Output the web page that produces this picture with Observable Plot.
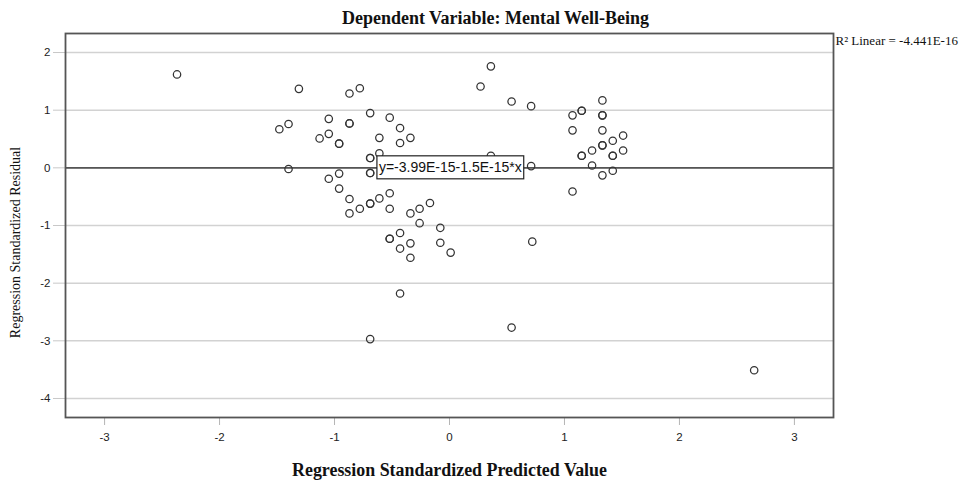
<!DOCTYPE html>
<html>
<head>
<meta charset="utf-8">
<script src="https://cdn.jsdelivr.net/npm/d3@7"></script>
<script src="https://cdn.jsdelivr.net/npm/@observablehq/plot@0.6"></script>
<style>
  html, body { margin: 0; padding: 0; background: #fff; }
  #chart svg { display: block; }
</style>
</head>
<body>
<div id="chart"></div>
<script>
// ---- data ----
const titleText = "Dependent Variable: Mental Well-Being";
const xLabel = "Regression Standardized Predicted Value";
const yLabel = "Regression Standardized Residual";
const r2Label = "R\u00B2 Linear = -4.441E-16";
const xTicks = [-3, -2, -1, 0, 1, 2, 3];
const yTicks = [-4, -3, -2, -1, 0, 1, 2];
const fitLine = [0];
const fitLabel = [{x: -0.64, y: 0, text: "y=-3.99E-15-1.5E-15*x"}];

const predicted = [
  -2.37, -1.31, -0.87, -0.78, -0.69, -1.05, -0.52, -1.48, -1.40, -0.87,
  -0.87, -0.43, -1.13, -1.05, -0.96, -0.96, -0.61, -0.43, -0.34, -0.61,
  -0.69, -0.69, -1.40, -0.69, -0.69, -1.05, -0.96, -0.96, -0.87, -0.87,
  -0.78, -0.69, -0.69, -0.61, -0.52, -0.52, -0.34, -0.26, -0.17, -0.26,
  -0.08, -0.43, -0.52, -0.52, -0.34, -0.43, -0.34, -0.08, 0.01, -0.43,
  -0.69, 0.72, 0.54, 2.65, 0.36, 0.27, 0.54, 0.71, 1.33, 1.15,
  1.15, 1.07, 1.33, 1.33, 1.07, 1.33, 1.51, 1.42, 1.33, 1.33,
  1.24, 1.15, 1.15, 1.51, 1.42, 1.42, 1.24, 1.42, 1.33, 1.07,
  0.71, 0.36
];
const residual = [
  1.62, 1.37, 1.29, 1.38, 0.95, 0.85, 0.87, 0.67, 0.76, 0.77,
  0.77, 0.69, 0.51, 0.59, 0.42, 0.42, 0.52, 0.43, 0.52, 0.25,
  0.17, 0.17, -0.02, -0.09, -0.09, -0.19, -0.10, -0.36, -0.54, -0.79,
  -0.71, -0.62, -0.62, -0.53, -0.44, -0.71, -0.79, -0.71, -0.61, -0.96,
  -1.04, -1.13, -1.23, -1.23, -1.31, -1.40, -1.56, -1.30, -1.47, -2.18,
  -2.97, -1.28, -2.77, -3.51, 1.76, 1.41, 1.15, 1.07, 1.17, 0.99,
  0.99, 0.91, 0.91, 0.91, 0.65, 0.65, 0.56, 0.47, 0.39, 0.39,
  0.30, 0.21, 0.21, 0.30, 0.21, 0.21, 0.04, -0.05, -0.13, -0.41,
  0.03, 0.21
];

const points = predicted.map((x, i) => ({x, y: residual[i]}));
const serif = "Liberation Serif, Times New Roman, serif";
const sans = "Liberation Sans, Arial, sans-serif";
const fmt = d => String(d);

const chart = Plot.plot({
  width: 963,
  height: 483,
  marginTop: 33,
  marginBottom: 66,
  marginLeft: 65,
  marginRight: 130,
  style: {fontFamily: sans, fontSize: "11.5px", color: "#222", background: "#fff"},
  x: {domain: [-3.34, 3.34]},
  y: {domain: [-4.33, 2.33]},
  marks: [
    Plot.ruleY(yTicks, {stroke: "#d2d2d2", strokeWidth: 1.5}),
    Plot.axisX(xTicks, {tickSize: 8, tickPadding: 7, stroke: "#b5b5b5", label: null, fill: "#222", tickFormat: fmt}),
    Plot.axisY(yTicks, {tickSize: 12, tickPadding: 3, stroke: "#c8c8c8", label: null, fill: "#222", tickFormat: fmt}),
    Plot.ruleY(fitLine, {stroke: "#555", strokeWidth: 1.6}),
    Plot.frame({stroke: "#555", strokeWidth: 1.8}),
    Plot.dot(points, {x: "x", y: "y", r: 3.7, stroke: "#333", strokeWidth: 1.25, fill: "none"}),
    Plot.text(fitLabel, {x: "x", y: "y", text: "text", textAnchor: "start", lineAnchor: "middle",
      dx: 3, fontFamily: sans, fontSize: 14, fill: "#111"}),
    Plot.text([titleText], {frameAnchor: "top", text: d => d, dx: 46, dy: -15, lineAnchor: "middle", textAnchor: "middle",
      fontFamily: serif, fontWeight: "bold", fontSize: 18, fill: "#111"}),
    Plot.text([xLabel], {frameAnchor: "bottom", text: d => d, dy: 53, lineAnchor: "middle", textAnchor: "middle",
      fontFamily: serif, fontWeight: "bold", fontSize: 17.9, fill: "#111"}),
    Plot.text([yLabel], {frameAnchor: "left", text: d => d, dx: -50, dy: 17, rotate: -90, lineAnchor: "middle", textAnchor: "middle",
      fontFamily: serif, fontSize: 14, fill: "#111"}),
    Plot.text([r2Label], {frameAnchor: "top-right", text: d => d, dx: 2, dy: 7, textAnchor: "start", lineAnchor: "middle",
      fontFamily: serif, fontSize: 13, fill: "#111"})
  ]
});

document.getElementById("chart").appendChild(chart);

// draw the white bordered box behind the fit-line equation
chart.querySelectorAll("text").forEach(t => {
  if (!t.textContent.startsWith("y=")) return;
  const b = t.getBBox();
  const rect = document.createElementNS("http://www.w3.org/2000/svg", "rect");
  rect.setAttribute("x", b.x - 2);
  rect.setAttribute("y", b.y - 3.5);
  rect.setAttribute("width", b.width + 4);
  rect.setAttribute("height", b.height + 7);
  rect.setAttribute("fill", "#fff");
  rect.setAttribute("stroke", "#222");
  rect.setAttribute("stroke-width", 1.2);
  if (t.getAttribute("transform")) rect.setAttribute("transform", t.getAttribute("transform"));
  t.parentNode.insertBefore(rect, t);
});
</script>
</body>
</html>
